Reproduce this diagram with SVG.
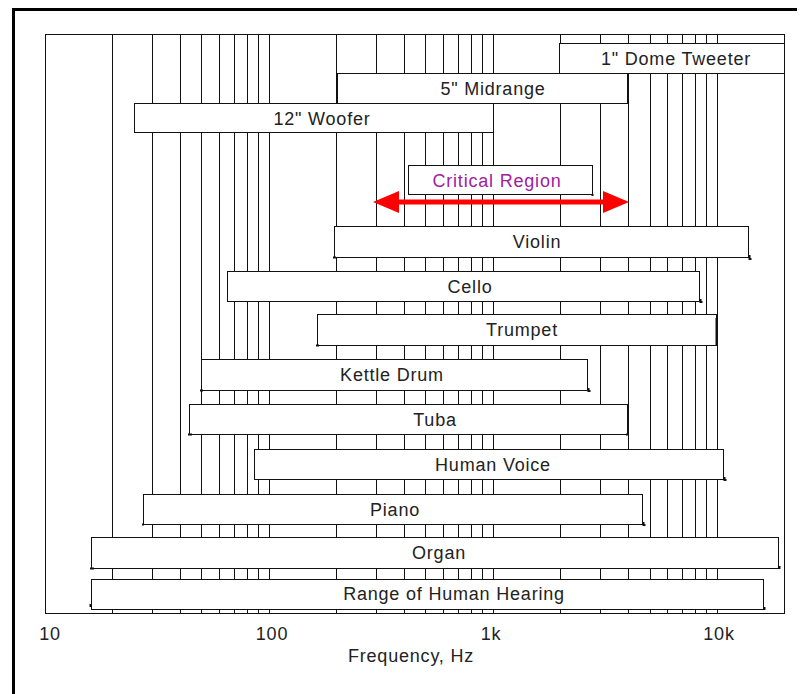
<svg xmlns="http://www.w3.org/2000/svg" width="804" height="694" viewBox="0 0 804 694">
<style>
text{font-family:"Liberation Sans",Arial,sans-serif;font-size:18px;fill:#222;letter-spacing:0.8px}
.lbl{text-anchor:middle;dominant-baseline:central}
.ax{text-anchor:middle}
.grid line{stroke:#111;stroke-width:1}
.bar rect{fill:#fff;stroke:#111;stroke-width:1}
.tick{stroke:#111;stroke-width:2;fill:none}
</style>
<rect x="0" y="0" width="804" height="694" fill="#fff"/>
<path d="M13.5 694 V9.5 H797" fill="none" stroke="#000" stroke-width="3"/>
<g id="frame">
<rect x="45.5" y="34.5" width="739" height="579" fill="#fff" stroke="#111" stroke-width="1"/>
</g>
<g id="grid" class="grid">
<line x1="112.5" y1="34" x2="112.5" y2="613"/>
<line x1="152.5" y1="34" x2="152.5" y2="613"/>
<line x1="180.5" y1="34" x2="180.5" y2="613"/>
<line x1="201.5" y1="34" x2="201.5" y2="613"/>
<line x1="219.5" y1="34" x2="219.5" y2="613"/>
<line x1="234.5" y1="34" x2="234.5" y2="613"/>
<line x1="247.5" y1="34" x2="247.5" y2="613"/>
<line x1="258.5" y1="34" x2="258.5" y2="613"/>
<line x1="269.5" y1="34" x2="269.5" y2="613"/>
<line x1="336.5" y1="34" x2="336.5" y2="613"/>
<line x1="376.5" y1="34" x2="376.5" y2="613"/>
<line x1="404.5" y1="34" x2="404.5" y2="613"/>
<line x1="425.5" y1="34" x2="425.5" y2="613"/>
<line x1="443.5" y1="34" x2="443.5" y2="613"/>
<line x1="458.5" y1="34" x2="458.5" y2="613"/>
<line x1="471.5" y1="34" x2="471.5" y2="613"/>
<line x1="482.5" y1="34" x2="482.5" y2="613"/>
<line x1="493.5" y1="34" x2="493.5" y2="613"/>
<line x1="560.5" y1="34" x2="560.5" y2="613"/>
<line x1="600.5" y1="34" x2="600.5" y2="613"/>
<line x1="628.5" y1="34" x2="628.5" y2="613"/>
<line x1="650.5" y1="34" x2="650.5" y2="613"/>
<line x1="667.5" y1="34" x2="667.5" y2="613"/>
<line x1="682.5" y1="34" x2="682.5" y2="613"/>
<line x1="695.5" y1="34" x2="695.5" y2="613"/>
<line x1="706.5" y1="34" x2="706.5" y2="613"/>
<line x1="717.5" y1="34" x2="717.5" y2="613"/>
</g>
<g id="tweeter" class="bar"><rect x="559.5" y="43.5" width="225" height="30"/><text class="lbl" x="676" y="59">1" Dome Tweeter</text></g>
<g id="midrange" class="bar"><rect x="337.5" y="73.5" width="290" height="30"/><text class="lbl" x="493" y="89">5" Midrange</text></g>
<g id="woofer" class="bar"><rect x="134.5" y="103.5" width="359" height="29"/><text class="lbl" x="322" y="119">12" Woofer</text></g>
<g id="critical" class="bar"><rect x="408.5" y="165.5" width="184" height="29"/><path class="tick" d="M592.5 194 v2"/><text class="lbl" x="497" y="181" style="fill:#a0209f">Critical Region</text></g>
<g id="arrows">
<polygon points="373,202 399,191 399,199.5 603,199.5 603,191 629,202 603,213 603,204.5 399,204.5 399,213" fill="#ff0000"/>
</g>
<g id="violin" class="bar"><rect x="334.5" y="226.5" width="414" height="31"/><path class="tick" d="M333 257.5 h3 M749.5 255 v4 h2"/><text class="lbl" x="537" y="242">Violin</text></g>
<g id="cello" class="bar"><rect x="227.5" y="271.5" width="472" height="30"/><path class="tick" d="M700.5 299 v3 h2"/><text class="lbl" x="470" y="287">Cello</text></g>
<g id="trumpet" class="bar"><rect x="317.5" y="314.5" width="399" height="31"/><path class="tick" d="M316 345.5 h3 M716.5 318 v28"/><text class="lbl" x="522" y="330">Trumpet</text></g>
<g id="kettle" class="bar"><rect x="201.5" y="359.5" width="386" height="31"/><path class="tick" d="M200 390.5 h3 M588.5 388 v3 h2"/><text class="lbl" x="392" y="375">Kettle Drum</text></g>
<g id="tuba" class="bar"><rect x="189.5" y="404.5" width="438" height="30"/><path class="tick" d="M188 434.5 h4 M626 434.5 h3"/><text class="lbl" x="435" y="420">Tuba</text></g>
<g id="voice" class="bar"><rect x="254.5" y="449.5" width="469" height="30"/><path class="tick" d="M724.5 477 v3 h2"/><text class="lbl" x="493" y="465">Human Voice</text></g>
<g id="piano" class="bar"><rect x="143.5" y="494.5" width="499" height="30"/><path class="tick" d="M142 524.5 h2 M643.5 522 v3 h2"/><text class="lbl" x="395" y="510">Piano</text></g>
<g id="organ" class="bar"><rect x="91.5" y="537.5" width="687" height="31"/><path class="tick" d="M90 568.5 h4 M779.5 566 v3"/><text class="lbl" x="439" y="553">Organ</text></g>
<g id="hearing" class="bar"><rect x="91.5" y="579.5" width="672" height="30"/><path class="tick" d="M90.5 604 v3 M764.5 607 v3"/><text class="lbl" x="454" y="594">Range of Human Hearing</text></g>
<g id="axis">
<text class="ax" x="50" y="640">10</text>
<text class="ax" x="272" y="640">100</text>
<text class="ax" x="491" y="640">1k</text>
<text class="ax" x="719" y="640">10k</text>
<text class="ax" x="411" y="662">Frequency, Hz</text>
</g>
</svg>
